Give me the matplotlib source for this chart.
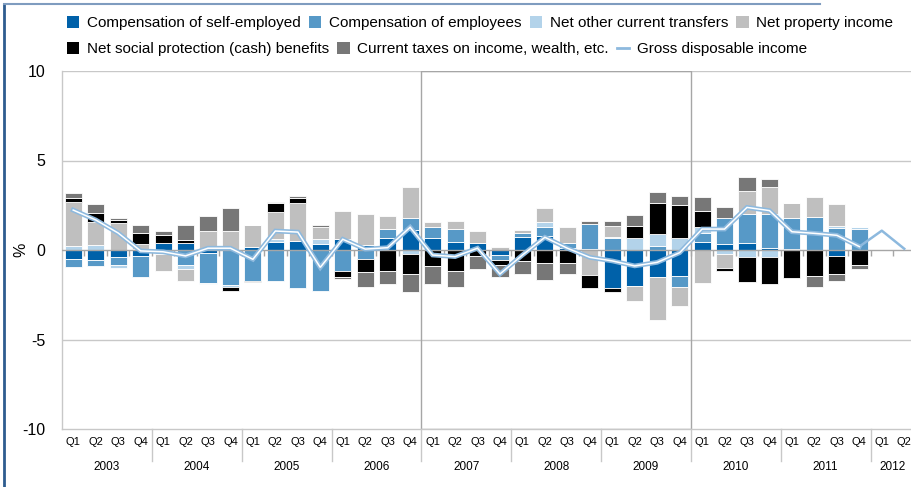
import matplotlib.pyplot as plt
from matplotlib.patches import Patch, Rectangle
from matplotlib.lines import Line2D
from matplotlib.transforms import blended_transform_factory
import numpy as np

plt.rcParams['font.family'] = ['Liberation Sans', 'DejaVu Sans']

years = ['2003', '2004', '2005', '2006', '2007', '2008', '2009', '2010', '2011', '2012']
quarters = ['Q1', 'Q2', 'Q3', 'Q4']

# contributions, 2003Q1 .. 2011Q4 (percentage points)
self_employed = [-0.50, -0.55, -0.37, -0.35, 0.37, 0.37, -0.19, 0.00,
                 0.15, 0.47, 0.52, 0.33, 0.60, 0.28, 0.65, 1.12,
                 0.65, 0.47, 0.41, -0.28, 0.71, 0.78, 0.10, 0.05,
                 -2.14, -2.01, -1.49, -1.45, 0.47, 0.33, 0.41, 0.13,
                 0.05, 0.00, -0.33, 0.00]
employees = [-0.45, -0.34, -0.47, -1.15, 0.00, -0.84, -1.64, -1.96,
             -1.71, -1.71, -2.14, -2.27, -1.15, -0.52, 0.50, 0.68,
             0.65, 0.70, 0.00, -0.28, 0.26, 0.52, 0.27, 1.40,
             0.65, 0.00, 0.22, -0.64, 0.50, 1.47, 1.60, 1.88,
             1.75, 1.86, 1.21, 1.17]
transfers = [0.20, 0.28, -0.18, 0.08, -0.20, -0.24, -0.05, -0.10,
             0.00, 0.13, 0.00, 0.27, 0.00, 0.00, 0.00, -0.22,
             0.00, 0.00, 0.00, 0.00, 0.00, 0.28, 0.00, 0.00,
             0.05, 0.65, 0.67, 0.65, 0.30, -0.22, -0.41, -0.41,
             0.00, 0.00, 0.13, 0.13]
property_income = [2.50, 1.30, 1.49, 0.25, -0.95, -0.65, 1.06, 1.06,
                   1.25, 1.54, 2.08, 0.70, 1.58, 1.72, 0.77, 1.74,
                   0.25, 0.47, 0.67, 0.15, 0.15, 0.75, 0.90, -1.40,
                   0.64, -0.82, -2.41, -1.04, -1.82, -0.80, 1.30, 1.53,
                   0.80, 1.08, 1.23, 0.00]
social_benefits = [0.18, 0.47, 0.19, 0.60, 0.47, 0.19, 0.00, -0.21,
                   -0.10, 0.46, 0.29, 0.00, -0.34, -0.73, -1.15, -1.14,
                   -0.90, -1.15, -0.33, -0.28, -0.60, -0.71, -0.71, -0.74,
                   -0.19, 0.69, 1.71, 1.86, 0.93, -0.18, -1.39, -1.49,
                   -1.58, -1.45, -1.01, -0.84]
taxes = [0.29, 0.50, 0.12, 0.47, 0.24, 0.86, 0.84, 1.27,
         0.00, 0.10, 0.13, 0.10, -0.15, -0.80, -0.75, -0.97,
         -1.00, -0.90, -0.73, -0.65, -0.74, -0.97, -0.63, 0.19,
         0.28, 0.62, 0.62, 0.53, 0.78, 0.58, 0.79, 0.44,
         0.00, -0.60, -0.39, -0.22]

# gross disposable income, 2003Q1 .. 2012Q2
gdi = [2.23, 1.68, 0.95, -0.05, -0.10, -0.33, 0.10, 0.10,
       -0.52, 1.06, 1.00, -0.97, 0.60, 0.05, 0.13, 1.27,
       -0.28, -0.37, 0.10, -1.34, -0.28, 0.71, 0.10, -0.41,
       -0.61, -0.89, -0.69, -0.15, 1.17, 1.17, 2.38, 2.20,
       1.02, 0.93, 0.82, 0.19, 1.08, 0.07]

series = [
    ('Compensation of self-employed', self_employed, '#0061A9'),
    ('Compensation of employees', employees, '#5799C7'),
    ('Net other current transfers', transfers, '#B3D3EA'),
    ('Net property income', property_income, '#BFBFBF'),
    ('Net social protection (cash) benefits', social_benefits, '#000000'),
    ('Current taxes on income, wealth, etc.', taxes, '#777777'),
]
line_color = '#8DB9DE'
grid_color = '#C8C8C8'

W, H = 911, 487
fig = plt.figure(figsize=(W / 100, H / 100), dpi=100)
ax = fig.add_axes([62 / W, 58 / H, 38 * 22.46 / W, 358 / H])

n = len(self_employed)
x = np.arange(n)
pos = np.zeros(n)
neg = np.zeros(n)
for name, vals, color in series:
    v = np.array(vals)
    bottom = np.where(v >= 0, pos, neg)
    ax.bar(x, v, bottom=bottom, width=0.76, color=color,
           edgecolor='white', linewidth=0.6, zorder=3)
    pos += np.where(v >= 0, v, 0)
    neg += np.where(v < 0, v, 0)

xl = np.arange(len(gdi))
ax.plot(xl[:n], gdi[:n], color=line_color, lw=3.4, zorder=5,
        solid_joinstyle='miter')
ax.plot(xl[:n], gdi[:n], color='white', lw=1.1, zorder=6,
        solid_joinstyle='miter')
ax.plot(xl[n - 1:], gdi[n - 1:], color=line_color, lw=1.8, zorder=5)

ax.set_xlim(-0.5, len(gdi) - 0.5)
ax.set_ylim(-10, 10)
ax.set_yticks([-10, -5, 0, 5, 10])
ax.set_yticklabels(['-10', '-5', '0', '5', '10'], fontsize=11.5)
ax.tick_params(axis='y', length=0, pad=12)
for yv in [10, 5, -5]:
    ax.axhline(yv, color=grid_color, lw=1, zorder=1)
ax.axhline(0, color='#A6A6A6', lw=1, zorder=4)
ax.vlines(np.arange(len(gdi)) + 0.5, -0.33, 0, color='#A6A6A6', lw=1, zorder=4)

for side in ['top', 'right']:
    ax.spines[side].set_visible(False)
for side in ['left', 'bottom']:
    ax.spines[side].set_color(grid_color)
    ax.spines[side].set_linewidth(1)

ax.set_ylabel('%', fontsize=11.5)
ax.yaxis.set_label_coords(-34 / 853, 0.5)

# highlighted crisis period
ax.add_patch(Rectangle((15.5, -10), 12, 20, fill=False,
                       edgecolor='#A6A6A6', lw=1, zorder=2))

# quarter and year labels
ax.set_xticks(xl)
ax.set_xticklabels([quarters[i % 4] for i in xl], fontsize=8)
ax.tick_params(axis='x', length=0, pad=6)
trans = blended_transform_factory(ax.transData, ax.transAxes)
for i, yr in enumerate(years):
    start = i * 4
    end = min(start + 4, len(gdi))
    ax.text((start + end - 1) / 2, -38 / 358, yr, transform=trans,
            ha='center', va='center', fontsize=8.5)
    if i > 0:
        ax.add_line(Line2D([start - 0.5, start - 0.5], [0, -32 / 358],
                           transform=trans, color=grid_color, lw=1,
                           clip_on=False))

# legend in two rows
handles1 = [Patch(facecolor=c, edgecolor='none') for _, _, c in series[:4]]
labels1 = [s[0] for s in series[:4]]
handles2 = [Patch(facecolor=c, edgecolor='none') for _, _, c in series[4:]]
handles2.append(Line2D([0], [0], color=line_color, lw=2))
labels2 = [s[0] for s in series[4:]] + ['Gross disposable income']
legend_kw = dict(frameon=False, fontsize=11, handlelength=0.8, handleheight=0.8,
                 handletextpad=0.5, columnspacing=0.55, borderpad=0,
                 borderaxespad=0, loc='center left')
fig.legend(handles1, labels1, ncol=4, bbox_to_anchor=(67 / W, 1 - 23 / H), **legend_kw)
fig.legend(handles2, labels2, ncol=3, bbox_to_anchor=(67 / W, 1 - 49 / H), **legend_kw)

# page frame
fig.add_artist(Line2D([4 / W, 4 / W], [0, 1 - 4 / H], color='#2E5C8F', lw=2))
fig.add_artist(Line2D([4 / W, 0.9], [1 - 4 / H, 1 - 4 / H], color='#7F9CBF', lw=1.5))

fig.savefig('out.png', dpi=100, facecolor='white')
